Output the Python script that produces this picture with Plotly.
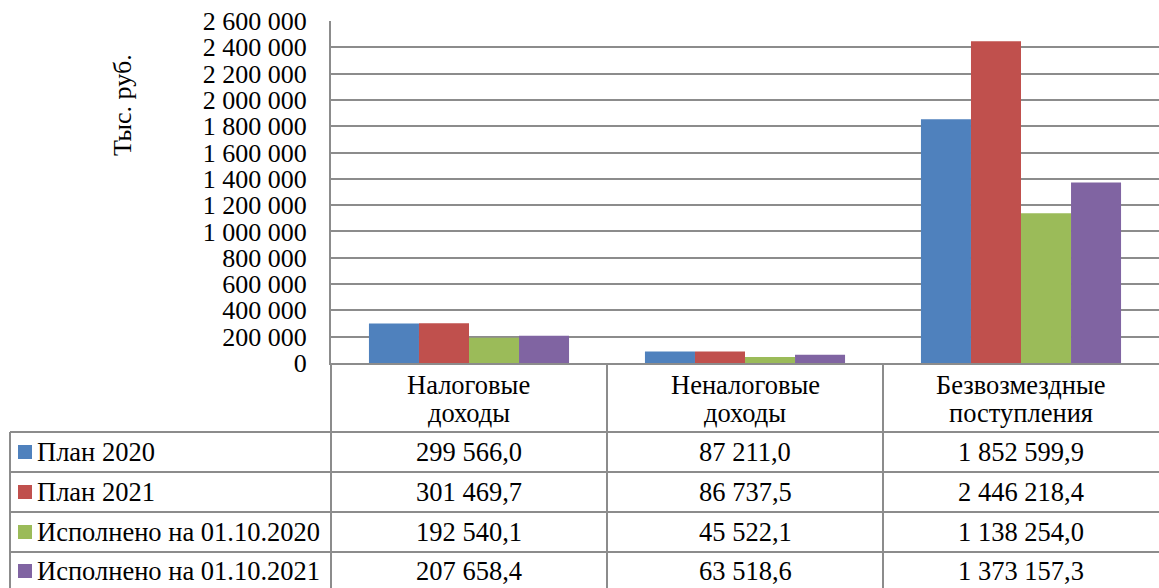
import plotly.graph_objects as go

# ---- data ----
categories = ["Налоговые\nдоходы", "Неналоговые\nдоходы", "Безвозмездные\nпоступления"]
series_names = ["План 2020", "План 2021", "Исполнено на 01.10.2020", "Исполнено на 01.10.2021"]
plan_2020 = [299566.0, 87211.0, 1852599.9]
plan_2021 = [301469.7, 86737.5, 2446218.4]
done_2020 = [192540.1, 45522.1, 1138254.0]
done_2021 = [207658.4, 63518.6, 1373157.3]
series_values = [plan_2020, plan_2021, done_2020, done_2021]
y_title = "Тыс. руб."
y_ticks = list(range(0, 2600001, 200000))

# ---- style ----
colors = ["#4F81BD", "#C0504D", "#9BBB59", "#8064A2"]
W, H = 1159, 588
FONT = "Liberation Serif"
FS = 26
FS_T = 26.5
GRID = "#8C8C8C"
PX_L, PX_R, PX_T, PX_B = 331, 1159, 21, 363
row_lines = [432, 472, 512, 552]
row_centers = [452, 492, 532, 571]


def py(y):
    return 1 - y / H


def px(x):
    return x / W


def fmt(v):
    s = f"{v:,.1f}"
    return s.replace(",", " ").replace(".", ",")


fig = go.Figure()
cat_x = [c.replace("\n", " ") for c in categories]
for name, vals, col in zip(series_names, series_values, colors):
    fig.add_trace(go.Bar(x=cat_x, y=vals, name=name, marker=dict(color=col, line=dict(width=0))))

shapes = []
annotations = []

# table grid
for y in row_lines:
    shapes.append(dict(type="line", xref="paper", yref="paper", x0=px(10), x1=1, y0=py(y), y1=py(y),
                       line=dict(color=GRID, width=2)))
shapes.append(dict(type="line", xref="paper", yref="paper", x0=px(10), x1=px(10), y0=py(row_lines[0]), y1=0,
                   line=dict(color=GRID, width=2)))
shapes.append(dict(type="line", xref="paper", yref="paper", x0=px(PX_L), x1=px(PX_L), y0=py(PX_B), y1=0,
                   line=dict(color=GRID, width=2)))
colw = (PX_R - PX_L) / len(categories)
for i in range(1, len(categories)):
    xx = PX_L + colw * i
    shapes.append(dict(type="line", xref="paper", yref="paper", x0=px(xx), x1=px(xx), y0=py(PX_B), y1=0,
                       line=dict(color=GRID, width=2)))

# category labels
for c, full in zip(categories, cat_x):
    lines = c.split("\n")
    for j, ln in enumerate(lines):
        annotations.append(dict(x=full, xref="x", y=py(385 + j * 28), yref="paper", text=ln, showarrow=False,
                                font=dict(family=FONT, size=FS_T, color="#000"), xanchor="center", yanchor="middle"))

# legend keys, series names, values
for i, (name, vals, col) in enumerate(zip(series_names, series_values, colors)):
    yc = row_centers[i]
    shapes.append(dict(type="rect", xref="paper", yref="paper", x0=px(18), x1=px(32), y0=py(yc + 7), y1=py(yc - 7),
                       fillcolor=col, line=dict(width=0)))
    annotations.append(dict(x=px(35), xref="paper", y=py(yc), yref="paper", text=name, showarrow=False,
                            font=dict(family=FONT, size=FS_T, color="#000"), xanchor="left", yanchor="middle"))
    for full, v in zip(cat_x, vals):
        annotations.append(dict(x=full, xref="x", y=py(yc), yref="paper", text=fmt(v), showarrow=False,
                                font=dict(family=FONT, size=FS_T, color="#000"), xanchor="center", yanchor="middle"))

# y title
annotations.append(dict(x=px(122), xref="paper", y=py(105), yref="paper", text=y_title, textangle=-90,
                        showarrow=False, font=dict(family=FONT, size=FS, color="#000"),
                        xanchor="center", yanchor="middle"))

fig.update_layout(
    width=W, height=H,
    margin=dict(l=0, r=0, t=0, b=0),
    paper_bgcolor="white", plot_bgcolor="white",
    barmode="group", bargap=0.275, bargroupgap=0,
    showlegend=False,
    separators=", ",
    font=dict(family=FONT, size=FS, color="#000"),
    xaxis=dict(domain=[px(PX_L), 1], showticklabels=False, showgrid=False, zeroline=False,
               showline=True, linecolor=GRID, linewidth=2, automargin=False),
    yaxis=dict(domain=[py(PX_B), py(PX_T)], range=[0, 2600000], tickvals=y_ticks, tickformat=",d",
               showgrid=True, gridcolor=GRID, gridwidth=1.5, zeroline=False,
               showline=True, linecolor=GRID, linewidth=2, ticks="", ticklabelstandoff=17,
               tickfont=dict(family=FONT, size=FS, color="#000"), automargin=False),
    shapes=shapes, annotations=annotations,
)

fig.write_html("out.html", config={"displayModeBar": False},
               post_script="document.body.style.margin='0';document.body.style.overflow='hidden';")
